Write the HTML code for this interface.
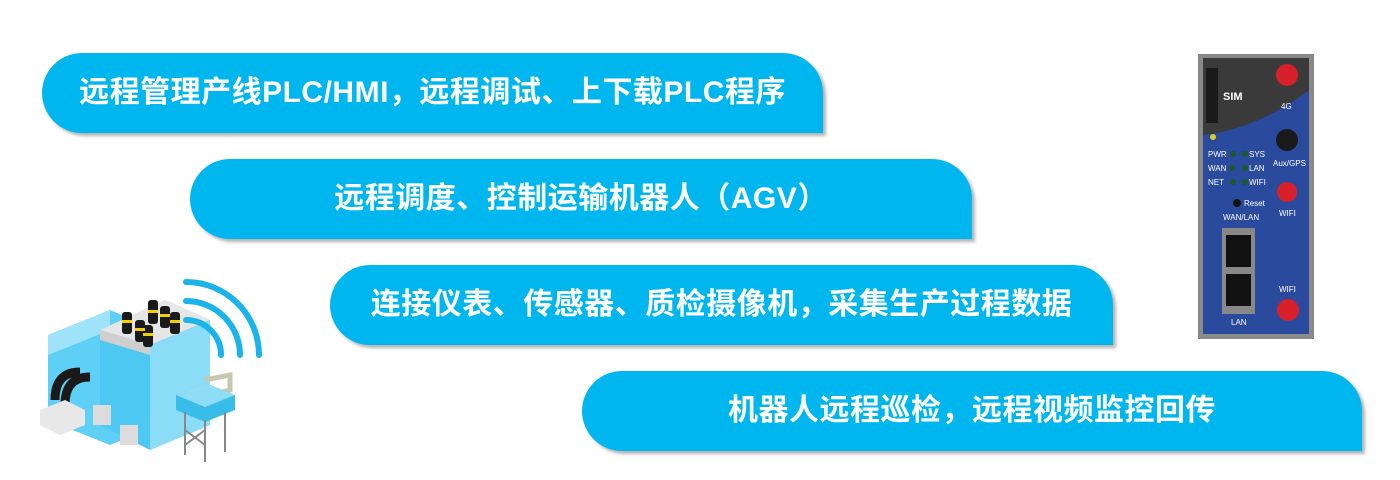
<!DOCTYPE html>
<html><head><meta charset="utf-8"><style>
body{margin:0;width:1400px;height:480px;background:#fff;position:relative;overflow:hidden;font-family:"Liberation Sans","Noto Sans CJK SC",sans-serif}
.p{position:absolute;height:80px;background:#00b6ee;border-radius:40px 40px 0 40px;box-shadow:3px 3px 3px rgba(0,0,0,.3);color:#fff;font-weight:bold;font-size:30px;line-height:80px;text-align:center;letter-spacing:0.5px}
.r{position:absolute}
</style></head><body>
<div class="p" style="left:42px;top:53px;width:781px">远程管理产线PLC/HMI，远程调试、上下载PLC程序</div>
<div class="p" style="left:190px;top:159px;width:782px">远程调度、控制运输机器人（AGV）</div>
<div class="p" style="left:330px;top:265px;width:783px">连接仪表、传感器、质检摄像机，采集生产过程数据</div>
<div class="p" style="left:582px;top:371px;width:780px">机器人远程巡检，远程视频监控回传</div>

<svg class="r" style="left:0;top:0" width="1400" height="480">
<g>
<polygon points="48,335 110,310 170,335 170,420 110,445 48,420" fill="#5ecff5"/>
<polygon points="48,335 110,310 110,330 48,355" fill="#9fe3fa"/>
<polygon points="100,330 165,300 210,320 210,425 150,450 100,425" fill="#4cc8f2"/>
<polygon points="100,330 165,300 210,320 150,345" fill="#e6e6e6"/>
<polygon points="150,345 210,320 210,425 150,450" fill="#8adcf7"/>
<polygon points="100,330 150,345 150,355 100,340" fill="#cfcfcf"/>
<g fill="#1a1a1a">
<rect x="122" y="312" width="10" height="22" rx="3"/><rect x="135" y="320" width="10" height="22" rx="3"/>
<rect x="148" y="300" width="10" height="24" rx="3"/><rect x="160" y="306" width="10" height="22" rx="3"/>
<rect x="170" y="312" width="10" height="22" rx="3"/><rect x="143" y="325" width="10" height="22" rx="3"/>
</g>
<g fill="#f5d000"><rect x="122" y="320" width="10" height="3"/><rect x="135" y="328" width="10" height="3"/><rect x="148" y="310" width="10" height="3"/><rect x="160" y="314" width="10" height="3"/><rect x="170" y="320" width="10" height="3"/><rect x="143" y="333" width="10" height="3"/></g>
<path d="M55,400 C55,375 70,372 80,372" stroke="#1a1a1a" stroke-width="9" fill="none"/>
<path d="M65,405 C65,380 80,377 90,377" stroke="#1a1a1a" stroke-width="9" fill="none"/>
<polygon points="40,410 65,400 85,410 85,425 60,435 40,425" fill="#e8e8e8"/>
<rect x="93" y="405" width="18" height="20" fill="#dcdcdc"/><rect x="120" y="425" width="18" height="20" fill="#dcdcdc"/>
<path d="M205,380 L230,375 L230,390 L210,395" stroke="#c9c6b0" stroke-width="5" fill="none"/>
<polygon points="176,395 205,383 235,395 235,410 205,422 176,410" fill="#38bde8"/>
<polygon points="176,395 205,383 235,395 205,407" fill="#8fdcf7"/>
<g stroke="#888" stroke-width="2"><line x1="185" y1="412" x2="185" y2="455"/><line x1="205" y1="420" x2="205" y2="462"/><line x1="225" y1="412" x2="225" y2="452"/><line x1="185" y1="430" x2="205" y2="445"/><line x1="205" y1="430" x2="185" y2="445"/></g>
<g fill="none" stroke="#1ab4ea" stroke-width="6" stroke-linecap="round">
<path d="M186,320 A35,35 0 0,1 221,355"/>
<path d="M186,301 A54,54 0 0,1 240,355"/>
<path d="M186,282 A73,73 0 0,1 259,355"/>
</g>
</g>
<rect x="1198" y="54" width="116" height="285" fill="#8a8a8a"/>
<rect x="1203" y="58" width="106" height="276" fill="#2a4a9e"/>
<path d="M1203,58 H1309 V90 C1290,105 1250,130 1203,135 Z" fill="#3a3a3a"/>
<rect x="1206" y="68" width="12" height="55" fill="#1a1a1a"/>
<text x="1223" y="100" fill="#fff" font-size="11" font-weight="bold">SIM</text>
<circle cx="1213" cy="137" r="3" fill="#d8d020"/>
<circle cx="1287" cy="75" r="11" fill="#d8202a"/><text x="1281" y="109" fill="#fff" font-size="8">4G</text>
<circle cx="1287" cy="140" r="11" fill="#1a1a1a"/><text x="1273" y="166" fill="#fff" font-size="8">Aux/GPS</text>
<circle cx="1287" cy="192" r="10" fill="#d8202a"/><text x="1279" y="216" fill="#fff" font-size="8">WIFI</text>
<circle cx="1288" cy="310" r="11" fill="#d8202a"/><text x="1279" y="292" fill="#fff" font-size="8">WIFI</text>
<g fill="#fff" font-size="8"><text x="1208" y="157">PWR</text><text x="1249" y="157">SYS</text><text x="1208" y="171">WAN</text><text x="1249" y="171">LAN</text><text x="1208" y="185">NET</text><text x="1249" y="185">WIFI</text><text x="1244" y="206">Reset</text><text x="1223" y="220">WAN/LAN</text><text x="1231" y="325">LAN</text></g>
<g fill="#1c5a28"><circle cx="1233" cy="154" r="3"/><circle cx="1245" cy="154" r="3"/><circle cx="1232" cy="168" r="3"/><circle cx="1245" cy="168" r="3"/><circle cx="1233" cy="182" r="3"/><circle cx="1245" cy="182" r="3"/></g>
<circle cx="1237" cy="203" r="4" fill="#111"/>
<rect x="1222" y="228" width="33" height="86" fill="#888"/>
<rect x="1226" y="235" width="25" height="32" fill="#111"/><rect x="1226" y="274" width="25" height="32" fill="#111"/>
</svg>
</body></html>
